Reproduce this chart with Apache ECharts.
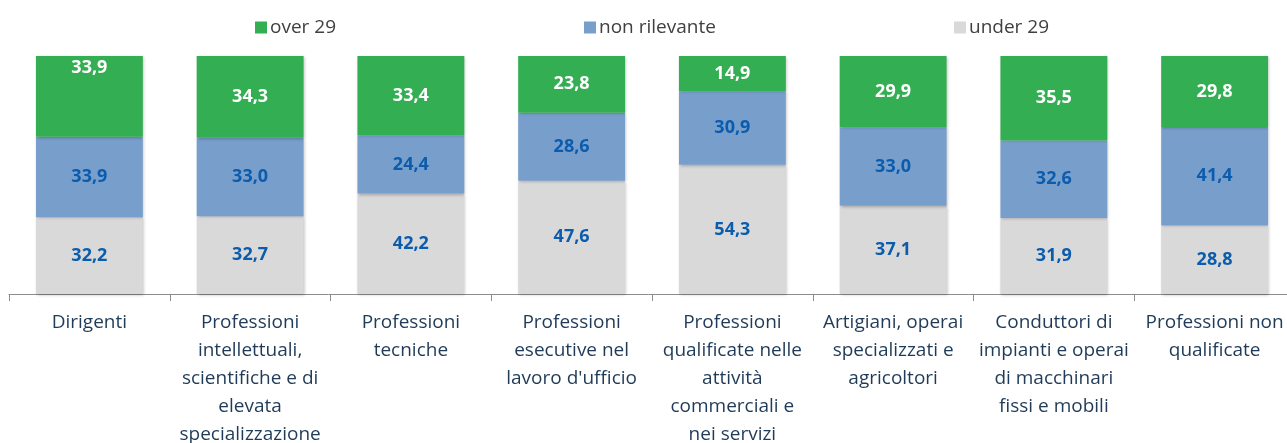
<!DOCTYPE html>
<html>
<head>
<meta charset="utf-8">
<script src="https://cdn.jsdelivr.net/npm/echarts@6/dist/echarts.min.js"></script>
<style>
    html, body { margin: 0; padding: 0; background: #fff; }
    #chart { width: 1287px; height: 443px; }
</style>
</head>
<body>
<div id="chart"></div>
<script>
// categorie (a capo come nel grafico originale)
var categories = [
    "Dirigenti",
    "Professioni\nintellettuali,\nscientifiche e di\nelevata\nspecializzazione",
    "Professioni\ntecniche",
    "Professioni\nesecutive nel\nlavoro d'ufficio",
    "Professioni\nqualificate nelle\nattività\ncommerciali e\nnei servizi",
    "Artigiani, operai\nspecializzati e\nagricoltori",
    "Conduttori di\nimpianti e operai\ndi macchinari\nfissi e mobili",
    "Professioni non\nqualificate"
];

var under29 = [32.2, 32.7, 42.2, 47.6, 54.3, 37.1, 31.9, 28.8];
var nonRilevante = [33.9, 33.0, 24.4, 28.6, 30.9, 33.0, 32.6, 41.4];
var over29 = [33.9, 34.3, 33.4, 23.8, 14.9, 29.9, 35.5, 29.8];

var seriesNames = ["under 29", "non rilevante", "over 29"];
var colors = ["#d9d9d9", "#789fcc", "#33ae52"];

function fmt(p) {
    return p.value.toFixed(1).replace(".", ",");
}

var barShadow = {
    shadowBlur: 3,
    shadowColor: "rgba(0,0,0,0.25)",
    shadowOffsetX: 1,
    shadowOffsetY: 1
};

function makeSeries(name, data, color, labelColor) {
    return {
        name: name,
        type: "bar",
        stack: "tot",
        barWidth: "66.5%",
        data: data,
        itemStyle: Object.assign({ color: color }, barShadow),
        label: {
            show: true,
            position: "inside",
            formatter: fmt,
            color: labelColor,
            fontFamily: "Open Sans",
            fontWeight: "bold",
            fontSize: 18
        },
        emphasis: { disabled: true }
    };
}

// nel grafico originale l'etichetta di Dirigenti (over 29) è in alto
var over29Data = over29.map(function(v, i) {
    if (i === 0) {
        return { value: v, label: { position: "insideTop", distance: 3 } };
    }
    return v;
});

function legendAt(name, left) {
    return {
        data: [name],
        left: left,
        top: 13,
        icon: "rect",
        itemWidth: 12,
        itemHeight: 12,
        itemGap: 0,
        textStyle: { color: "#404040", fontFamily: "Open Sans", fontSize: 19, padding: [0, 0, 0, -2] }
    };
}

var chart = echarts.init(document.getElementById("chart"));

var option = {
    animation: false,
    legend: [
        legendAt("over 29", 250),
        legendAt("non rilevante", 579),
        legendAt("under 29", 949)
    ],
    grid: {
        left: 9,
        top: 56,
        width: 1286,
        height: 238,
        outerBoundsMode: "none",
        containLabel: false
    },
    xAxis: {
        type: "category",
        data: categories,
        axisLine: { lineStyle: { color: "#8c8c8c", width: 1 } },
        axisTick: { show: true, length: 7, lineStyle: { color: "#8c8c8c" } },
        axisLabel: {
            interval: 0,
            margin: 15,
            color: "#1f3b58",
            fontFamily: "Open Sans",
            fontSize: 19,
            lineHeight: 28
        }
    },
    yAxis: {
        type: "value",
        min: 0,
        max: 100,
        show: false
    },
    series: [
        makeSeries(seriesNames[0], under29, colors[0], "#0b5cad"),
        makeSeries(seriesNames[1], nonRilevante, colors[1], "#0b5cad"),
        makeSeries(seriesNames[2], over29Data, colors[2], "#ffffff")
    ]
};

chart.setOption(option);
</script>
</body>
</html>
